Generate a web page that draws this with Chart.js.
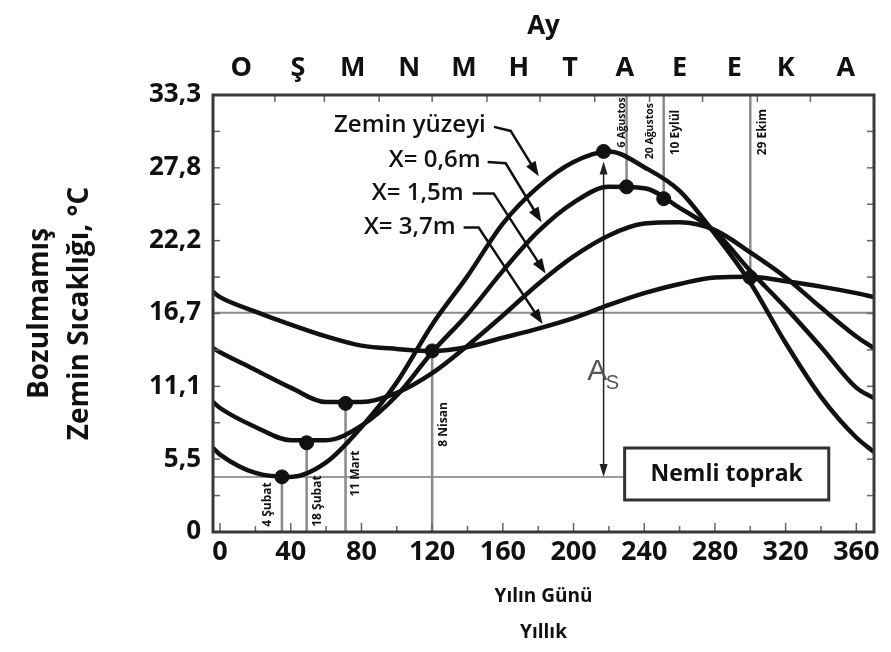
<!DOCTYPE html>
<html lang="tr">
<head>
<meta charset="utf-8">
<title>Bozulmamış Zemin Sıcaklığı</title>
<script src="https://cdn.jsdelivr.net/npm/chart.js@4.4.1/dist/chart.umd.min.js"></script>
<style>
  html, body { margin: 0; padding: 0; background: #fff; }
  #wrap { width: 891px; height: 652px; }
</style>
</head>
<body>
<div id="wrap"><canvas id="soilChart" width="891" height="652"></canvas></div>
<script>
// Yılın günü (eğrilerin okunduğu noktalar)
const days = [-4, 0, 20, 40, 60, 80, 100, 120, 140, 160, 180, 200, 220, 240, 260, 280, 300, 320, 340, 360, 370];

// Sıcaklıklar, °C
const surfaceTemps = [6.4, 5.9, 4.5, 4.2, 5.3, 8.0, 11.4, 15.8, 19.5, 23.5, 26.3, 28.2, 29.0, 27.8, 26.0, 22.7, 19.0, 14.4, 10.3, 7.2, 6.1];
const depth06Temps = [9.9, 9.45, 8.0, 7.0, 7.0, 8.1, 10.4, 13.7, 16.6, 19.9, 22.9, 25.1, 26.3, 26.2, 24.7, 22.9, 19.9, 17.1, 14.1, 11.0, 10.2];
const depth15Temps = [14.0, 13.7, 12.35, 11.0, 9.9, 9.9, 10.6, 12.1, 14.2, 16.5, 18.9, 21.0, 22.6, 23.5, 23.6, 23.0, 21.3, 19.4, 17.1, 14.9, 14.0];
const depth37Temps = [18.3, 17.9, 16.8, 15.8, 14.9, 14.2, 13.95, 13.8, 14.1, 14.8, 15.5, 16.3, 17.3, 18.2, 18.9, 19.4, 19.45, 19.1, 18.7, 18.2, 17.9];

// İşaretli tarihler
const markerDays = [35, 49, 71, 120, 217, 230, 251, 300];
const markerTemps = [4.2, 6.8, 9.8, 13.8, 29.0, 26.3, 25.4, 19.4];
const markerLabels = ['4 Şubat', '18 Şubat', '11 Mart', '8 Nisan', '6 Ağustos', '20 Ağustos', '10 Eylül', '29 Ekim'];

// Eksenler
const xTicks = [0, 40, 80, 120, 160, 200, 240, 280, 320, 360];
const yTicks = [0, 5.5, 11.1, 16.7, 22.2, 27.8, 33.3];
const monthLetters = ['O', 'Ş', 'M', 'N', 'M', 'H', 'T', 'A', 'E', 'E', 'K', 'A'];
const monthDays = [12, 44, 75, 107, 138, 169, 198, 229, 260, 291, 320, 354];
const monthBounds = [31, 59, 90, 120, 151, 181, 212, 243, 273, 304, 334];

const meanTemp = 16.7;
const minSurfaceTemp = 4.2;

const FONT = "'Open Sans', 'DejaVu Sans', sans-serif";
const INK = '#111';

function toPoints(values) {
    return days.map((d, i) => ({ x: d, y: values[i] }));
}

function strokeLine(ctx, x1, y1, x2, y2) {
    ctx.beginPath();
    ctx.moveTo(x1, y1);
    ctx.lineTo(x2, y2);
    ctx.stroke();
}

function arrowHead(ctx, fromX, fromY, toX, toY, len, width) {
    const ang = Math.atan2(toY - fromY, toX - fromX);
    const bx = toX - len * Math.cos(ang);
    const by = toY - len * Math.sin(ang);
    ctx.beginPath();
    ctx.moveTo(toX, toY);
    ctx.lineTo(bx + width / 2 * Math.sin(ang), by - width / 2 * Math.cos(ang));
    ctx.lineTo(bx - width / 2 * Math.sin(ang), by + width / 2 * Math.cos(ang));
    ctx.closePath();
    ctx.fill();
}

// Annotation layout (data units) - texts, leader arrows, box
const curveLabels = [
    { text: 'Zemin yüzeyi', at: [150.3, 31.0], path: [[155, 30.87], [164.4, 30.56], [180.3, 27.1]] },
    { text: 'X= 0,6m', at: [147.4, 28.3], path: [[151.4, 28.2], [161.6, 28.1], [181.9, 23.6]] },
    { text: 'X= 1,5m', at: [137.8, 25.8], path: [[142.9, 25.8], [154.8, 25.8], [184.2, 19.7]] },
    { text: 'X= 3,7m', at: [133.3, 23.2], path: [[137.8, 23.2], [146.3, 23.2], [182.5, 15.85]] }
];
// pixel offset from the marker line and start value of each rotated date label
const dateLabelLayout = [[-14, 0.4, 12], [11, 0.4, 12], [10, 2.7, 12], [11, 6.5, 12], [18, 29.3, 10.5], [23, 28.4, 10.5], [12, 28.7, 12], [12, 28.7, 12]];
const lineFromBottom = [true, true, true, true, null, false, false, false];
const box = { left: 228.9, right: 344.4, top: 6.4, bottom: 2.44, text: 'Nemli toprak' };

const annotationPlugin = {
    id: 'soilAnnotations',
    beforeDatasetsDraw(chart) {
        const { ctx, chartArea: a, scales: { x, y } } = chart;
        ctx.save();
        ctx.beginPath();
        ctx.rect(a.left, a.top, a.width, a.height);
        ctx.clip();

        // mean and minimum horizontal lines
        ctx.strokeStyle = '#8a8a8a';
        ctx.lineWidth = 2;
        const yMean = y.getPixelForValue(meanTemp);
        strokeLine(ctx, a.left, yMean, a.right, yMean);
        ctx.strokeStyle = '#9a9a9a';
        const yMin = y.getPixelForValue(minSurfaceTemp);
        strokeLine(ctx, a.left, yMin, x.getPixelForValue(box.left), yMin);

        // vertical date lines
        ctx.strokeStyle = '#8a8a8a';
        ctx.lineWidth = 2.5;
        markerDays.forEach((d, i) => {
            const px = x.getPixelForValue(d);
            const py = y.getPixelForValue(markerTemps[i]);
            if (lineFromBottom[i] === true) strokeLine(ctx, px, a.bottom, px, py);
            else if (lineFromBottom[i] === false) strokeLine(ctx, px, a.top, px, py);
        });

        // amplitude arrow (6 Ağustos)
        const ax = x.getPixelForValue(markerDays[4]);
        const aTop = y.getPixelForValue(markerTemps[4]) + 10;
        ctx.strokeStyle = '#222';
        ctx.fillStyle = '#222';
        ctx.lineWidth = 1.5;
        strokeLine(ctx, ax, aTop + 10, ax, yMin - 10);
        arrowHead(ctx, ax, yMin, ax, aTop, 13, 8);
        arrowHead(ctx, ax, aTop, ax, yMin, 13, 8);
        ctx.restore();
    },
    afterDatasetsDraw(chart) {
        const { ctx, chartArea: a, scales: { x, y } } = chart;
        const px = v => x.getPixelForValue(v);
        const py = v => y.getPixelForValue(v);
        ctx.save();

        // curve labels with leader arrows
        ctx.fillStyle = INK;
        ctx.strokeStyle = INK;
        ctx.font = `600 24px ${FONT}`;
        ctx.textAlign = 'right';
        ctx.textBaseline = 'middle';
        curveLabels.forEach(lab => {
            ctx.fillText(lab.text, px(lab.at[0]), py(lab.at[1]));
            const p = lab.path.map(q => [px(q[0]), py(q[1])]);
            const tip = p[p.length - 1];
            const prev = p[p.length - 2];
            const ang = Math.atan2(tip[1] - prev[1], tip[0] - prev[0]);
            ctx.lineWidth = 2.5;
            ctx.beginPath();
            ctx.moveTo(p[0][0], p[0][1]);
            ctx.lineTo(p[1][0], p[1][1]);
            ctx.lineTo(tip[0] - 10 * Math.cos(ang), tip[1] - 10 * Math.sin(ang));
            ctx.stroke();
            arrowHead(ctx, prev[0], prev[1], tip[0], tip[1], 15, 11);
        });

        // rotated date labels
        markerLabels.forEach((label, i) => {
            const [dx, startVal, size] = dateLabelLayout[i];
            ctx.save();
            ctx.translate(px(markerDays[i]) + dx, py(startVal));
            ctx.rotate(-Math.PI / 2);
            ctx.font = `bold ${size}px ${FONT}`;
            ctx.textAlign = 'left';
            ctx.textBaseline = 'middle';
            ctx.fillText(label, 0, 0);
            ctx.restore();
        });

        // A_s
        ctx.fillStyle = '#555';
        ctx.textAlign = 'left';
        ctx.textBaseline = 'alphabetic';
        ctx.font = `30px 'Liberation Sans', sans-serif`;
        ctx.fillText('A', px(207.8), py(11.6));
        ctx.font = `20px 'Liberation Sans', sans-serif`;
        ctx.fillText('S', px(218.2), py(10.9));

        // Nemli toprak box
        const bl = px(box.left), br = px(box.right), bt = py(box.top), bb = py(box.bottom);
        ctx.fillStyle = '#fff';
        ctx.fillRect(bl, bt, br - bl, bb - bt);
        ctx.strokeStyle = '#333';
        ctx.lineWidth = 3;
        ctx.strokeRect(bl, bt, br - bl, bb - bt);
        ctx.fillStyle = INK;
        ctx.font = `bold 23px ${FONT}`;
        ctx.textAlign = 'center';
        ctx.textBaseline = 'middle';
        ctx.fillText(box.text, (bl + br) / 2, (bt + bb) / 2);

        // inward ticks
        ctx.strokeStyle = '#666';
        ctx.lineWidth = 1.5;
        for (let d = 0; d <= 360; d += 20) {
            const len = d % 40 === 0 ? 9 : 6;
            strokeLine(ctx, px(d), a.bottom, px(d), a.bottom - len);
        }
        monthBounds.forEach(d => strokeLine(ctx, px(d), a.top, px(d), a.top + 7));
        for (let v = 2.775; v < 33.3; v += 2.775) {
            strokeLine(ctx, a.left, py(v), a.left + 7, py(v));
            strokeLine(ctx, a.right, py(v), a.right - 7, py(v));
        }

        // frame
        ctx.strokeStyle = '#3a3a3a';
        ctx.lineWidth = 3;
        ctx.strokeRect(a.left, a.top, a.right - a.left, a.bottom - a.top);
        ctx.restore();
    }
};

const curveStyle = {
    type: 'line',
    borderColor: INK,
    borderWidth: 4.5,
    pointRadius: 0,
    cubicInterpolationMode: 'monotone',
    fill: false
};

new Chart(document.getElementById('soilChart'), {
    data: {
        datasets: [
            {
                type: 'scatter',
                label: 'Tarihler',
                data: markerDays.map((d, i) => ({ x: d, y: markerTemps[i] })),
                pointRadius: 7,
                pointBackgroundColor: INK,
                pointBorderColor: INK,
                showLine: false
            },
            Object.assign({ label: 'Zemin yüzeyi', data: toPoints(surfaceTemps) }, curveStyle),
            Object.assign({ label: 'X= 0,6m', data: toPoints(depth06Temps) }, curveStyle),
            Object.assign({ label: 'X= 1,5m', data: toPoints(depth15Temps) }, curveStyle),
            Object.assign({ label: 'X= 3,7m', data: toPoints(depth37Temps) }, curveStyle)
        ]
    },
    options: {
        responsive: false,
        animation: false,
        layout: { padding: { left: 0, right: 17, top: 0, bottom: 0 } },
        plugins: {
            legend: { display: false },
            tooltip: { enabled: false }
        },
        scales: {
            x: {
                type: 'linear',
                position: 'bottom',
                min: -4,
                max: 370,
                grid: { display: false, drawTicks: false },
                border: { display: false },
                afterBuildTicks: scale => { scale.ticks = xTicks.map(v => ({ value: v })); },
                afterFit: scale => { scale.height = 120; },
                ticks: {
                    color: INK,
                    padding: 4,
                    maxRotation: 0,
                    font: { family: FONT, size: 27, weight: 'bold' },
                    callback: v => String(v)
                },
                title: {
                    display: true,
                    text: ['Yılın Günü', 'Yıllık'],
                    color: INK,
                    padding: { top: 0, bottom: 1 },
                    font: { family: FONT, size: 19, weight: 'bold', lineHeight: 1.9 }
                }
            },
            x2: {
                type: 'linear',
                axis: 'x',
                position: 'top',
                min: -4,
                max: 370,
                grid: { display: false, drawTicks: false },
                border: { display: false },
                afterBuildTicks: scale => { scale.ticks = monthDays.map(v => ({ value: v })); },
                afterFit: scale => { scale.height = 95; },
                ticks: {
                    color: INK,
                    padding: 10,
                    maxRotation: 0,
                    autoSkip: false,
                    font: { family: FONT, size: 27, weight: 'bold' },
                    callback: (v, i) => monthLetters[i]
                },
                title: {
                    display: true,
                    text: 'Ay',
                    color: INK,
                    padding: { top: 11, bottom: 0 },
                    font: { family: FONT, size: 26, weight: 'bold' }
                }
            },
            y: {
                type: 'linear',
                min: 0,
                max: 33.3,
                grid: { display: false, drawTicks: false },
                border: { display: false },
                afterBuildTicks: scale => { scale.ticks = yTicks.map(v => ({ value: v })); },
                afterFit: scale => { scale.width = 213; },
                ticks: {
                    color: INK,
                    padding: 12,
                    font: { family: FONT, size: 26, weight: 'bold' },
                    callback: v => v === 0 ? '0' : v.toFixed(1).replace('.', ',')
                },
                title: {
                    display: true,
                    text: ['Bozulmamış', 'Zemin Sıcaklığı, °C'],
                    color: INK,
                    padding: { top: 20, bottom: 0 },
                    font: { family: FONT, size: 28, weight: 'bold', lineHeight: 1.43 }
                }
            }
        }
    },
    plugins: [annotationPlugin]
});
</script>
</body>
</html>
